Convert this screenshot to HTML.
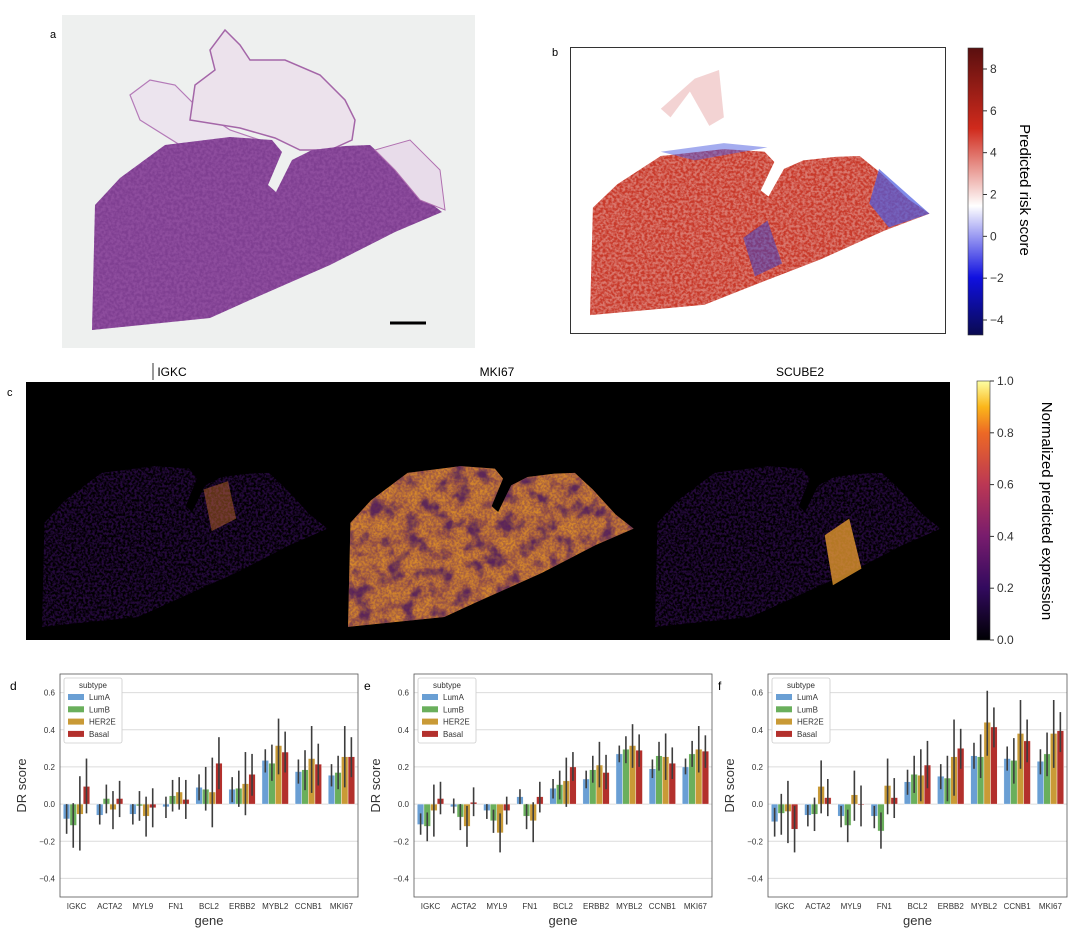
<!DOCTYPE html>
<html><head><meta charset="utf-8">
<style>
html,body{margin:0;padding:0;background:#fff;}
body{width:1080px;height:933px;overflow:hidden;font-family:"Liberation Sans",sans-serif;}
svg text{font-family:"Liberation Sans",sans-serif;}
</style></head>
<body>
<svg id="fig" width="1080" height="933" viewBox="0 0 1080 933" xmlns="http://www.w3.org/2000/svg">
<defs>
  <filter id="noise" x="0" y="0" width="100%" height="100%">
    <feTurbulence type="fractalNoise" baseFrequency="0.35" numOctaves="2" seed="3" result="n"/>
    <feColorMatrix in="n" type="saturate" values="0" result="g"/>
    <feComponentTransfer in="g" result="a"><feFuncA type="table" tableValues="0 0 0.9 1"/></feComponentTransfer>
    <feComposite in="SourceGraphic" in2="a" operator="in"/>
  </filter>
  <filter id="blotch" x="0" y="0" width="100%" height="100%">
    <feTurbulence type="fractalNoise" baseFrequency="0.05" numOctaves="3" seed="7" result="n"/>
    <feColorMatrix in="n" type="saturate" values="0" result="g"/>
    <feComponentTransfer in="g" result="a"><feFuncA type="table" tableValues="0 0 0.2 1 1"/></feComponentTransfer>
    <feComposite in="SourceGraphic" in2="a" operator="in"/>
  </filter>
  <path id="body" d="M92,330 L95,205 L120,178 L165,145 L230,137 L272,140 L282,152 L268,185 L276,192 L292,160 L312,150 L345,146 L370,145 L392,165 L420,195 L442,212 L395,232 L330,265 L250,300 L210,318 Z"/>
  <path id="upper" d="M190,120 L195,85 L215,70 L210,50 L225,30 L240,45 L250,60 L285,60 L320,75 L345,100 L355,120 L352,140 L330,150 L300,150 L275,138 L240,128 Z"/>
  <linearGradient id="rbcb" x1="0" y1="1" x2="0" y2="0">
    <stop offset="0" stop-color="#0a0a50"/><stop offset="0.2" stop-color="#1010e0"/>
    <stop offset="0.45" stop-color="#ffffff"/><stop offset="0.72" stop-color="#d02a1c"/>
    <stop offset="1" stop-color="#5a0f0f"/>
  </linearGradient>
  <linearGradient id="infcb" x1="0" y1="1" x2="0" y2="0">
    <stop offset="0" stop-color="#000004"/><stop offset="0.2" stop-color="#320a5e"/>
    <stop offset="0.4" stop-color="#781c6d"/><stop offset="0.6" stop-color="#bb3754"/>
    <stop offset="0.8" stop-color="#ed6925"/><stop offset="0.9" stop-color="#fbb61a"/>
    <stop offset="1" stop-color="#fcffa4"/>
  </linearGradient>
</defs>

<!-- Panel a -->
<g>
  <text x="50" y="38" font-size="11">a</text>
  <rect x="62" y="15" width="413" height="333" fill="#eef0ef"/>
  <path d="M130,95 L150,80 L175,85 L200,110 L230,130 L260,140 L240,150 L180,145 L140,120 Z" fill="#ece4ee" stroke="#b47ab8" stroke-width="1.2"/>
  <path d="M98,215 L105,195 L125,190 L135,205 L120,230 L100,240 Z" fill="#ece4ee" stroke="#b47ab8"/>
  <use href="#upper" fill="#ece2ec" stroke="#a466a8" stroke-width="1.5"/>
  <use href="#body" fill="#8e4d9e"/>
  <use href="#body" fill="#6a2c80" filter="url(#noise)" opacity="0.45"/>
  <path d="M375,150 L410,140 L440,170 L445,210 L420,200 L395,170 Z" fill="#e8dcea" stroke="#b070b0"/>
  <line x1="390" y1="323" x2="426" y2="323" stroke="#000" stroke-width="3"/>
</g>

<!-- Panel b -->
<g>
  <text x="552" y="56" font-size="11">b</text>
  <rect x="570.5" y="47.5" width="375" height="286" fill="#fff" stroke="#333"/>
  <g transform="translate(590,150) scale(0.97,0.86) translate(-92,-138)">
    <use href="#body" fill="#c8392a"/>
    <use href="#body" fill="#ffffff" filter="url(#noise)" opacity="0.35"/>
    <path d="M390,160 L442,212 L400,228 L380,200 Z" fill="#4a5ae0" opacity="0.7"/>
    <path d="M250,240 L275,220 L290,270 L262,285 Z" fill="#3040d0" opacity="0.5"/>
    <path d="M165,140 L230,130 L275,135 L200,150 Z" fill="#4a5ae0" opacity="0.5"/>
    <path d="M165,90 L200,55 L225,45 L230,100 L215,110 L195,70 L175,100 Z" fill="#e8a8a8" opacity="0.5"/>
  </g>
  <rect x="968" y="48" width="15" height="287" fill="url(#rbcb)" stroke="#333" stroke-width="0.6"/>
  <g id="rbticks" font-size="12" fill="#333"></g>
  <text transform="translate(1020,190) rotate(90)" font-size="15" text-anchor="middle">Predicted risk score</text>
</g>

<!-- Panel c -->
<g>
  <text x="7" y="396" font-size="11">c</text>
  <rect x="26" y="382" width="924" height="258" fill="#000"/>
  <line x1="153" y1="363" x2="153" y2="380" stroke="#000" stroke-width="0.8"/>
  <text x="172" y="376" font-size="12" text-anchor="middle">IGKC</text>
  <text x="497" y="376" font-size="12" text-anchor="middle">MKI67</text>
  <text x="800" y="376" font-size="12" text-anchor="middle">SCUBE2</text>
  <g transform="translate(42,467) scale(0.816,0.833) translate(-92,-138)">
    <use href="#body" fill="#3a0e5e" filter="url(#noise)" opacity="0.7"/>
    <path d="M290,165 L320,155 L330,200 L300,215 Z" fill="#d07030" opacity="0.45"/>
  </g>
  <g transform="translate(348,467) scale(0.816,0.833) translate(-92,-138)">
    <use href="#body" fill="#d88a2a"/>
    <use href="#body" fill="#3a0c60" filter="url(#blotch)" opacity="0.75"/>
    <use href="#body" fill="#4a1070" filter="url(#noise)" opacity="0.35"/>
  </g>
  <g transform="translate(655,467) scale(0.816,0.833) translate(-92,-138)">
    <use href="#body" fill="#3a0e5e" filter="url(#noise)" opacity="0.7"/>
    <path d="M300,220 L330,200 L345,260 L310,280 Z" fill="#f0a030" opacity="0.75"/>
  </g>
  <rect x="977" y="381" width="13" height="259" fill="url(#infcb)" stroke="#333" stroke-width="0.6"/>
  <g id="infticks" font-size="12" fill="#333"></g>
  <text transform="translate(1042,511) rotate(90)" font-size="15" text-anchor="middle">Normalized predicted expression</text>
</g>

<g id="charts"></g>
</svg>
<script>
const NS="http://www.w3.org/2000/svg";
const genes=["IGKC","ACTA2","MYL9","FN1","BCL2","ERBB2","MYBL2","CCNB1","MKI67"];
const subtypes=["LumA","LumB","HER2E","Basal"];
const yTicks=[0.6,0.4,0.2,0.0,-0.2,-0.4];
const yTickLabels=["0.6","0.4","0.2","0.0","\u22120.2","\u22120.4"];
const riskTicks=[8,6,4,2,0,-2,-4];
const riskTickLabels=["8","6","4","2","0","\u22122","\u22124"];
const exprTicks=[1.0,0.8,0.6,0.4,0.2,0.0];
const exprTickLabels=["1.0","0.8","0.6","0.4","0.2","0.0"];
// panel d: per gene [LumA, LumB, HER2E, Basal]
const dVal=[[-0.08,-0.115,-0.055,0.095],[-0.06,0.03,-0.03,0.03],[-0.055,-0.01,-0.065,-0.02],[-0.015,0.045,0.065,0.025],[0.09,0.08,0.065,0.22],[0.08,0.085,0.11,0.16],[0.235,0.22,0.315,0.28],[0.175,0.185,0.245,0.215],[0.155,0.17,0.255,0.255]];
const dLo=[[-0.16,-0.235,-0.25,-0.05],[-0.11,-0.05,-0.135,-0.07],[-0.11,-0.09,-0.175,-0.125],[-0.075,-0.04,-0.03,-0.08],[0.02,-0.035,-0.125,0.08],[0.01,-0.015,-0.06,0.045],[0.17,0.125,0.16,0.17],[0.11,0.075,0.06,0.1],[0.095,0.08,0.09,0.145]];
const dHi=[[0.0,0.005,0.15,0.245],[0.0,0.105,0.07,0.125],[0.0,0.07,0.04,0.085],[0.04,0.13,0.145,0.13],[0.16,0.2,0.25,0.36],[0.145,0.18,0.28,0.27],[0.295,0.32,0.46,0.39],[0.24,0.29,0.42,0.325],[0.215,0.26,0.42,0.36]];
// panel e
const eVal=[[-0.11,-0.12,-0.035,0.03],[-0.015,-0.07,-0.12,0.01],[-0.035,-0.09,-0.155,-0.035],[0.04,-0.065,-0.09,0.04],[0.085,0.105,0.125,0.2],[0.135,0.185,0.21,0.17],[0.27,0.295,0.315,0.29],[0.19,0.26,0.255,0.22],[0.2,0.27,0.295,0.285]];
const eLo=[[-0.165,-0.2,-0.175,-0.055],[-0.05,-0.14,-0.23,-0.065],[-0.08,-0.155,-0.26,-0.11],[0.0,-0.135,-0.205,-0.045],[0.03,0.025,-0.015,0.125],[0.085,0.115,0.09,0.08],[0.225,0.22,0.195,0.2],[0.14,0.18,0.13,0.135],[0.16,0.2,0.17,0.195]];
const eHi=[[-0.05,-0.045,0.105,0.12],[0.03,0.0,-0.01,0.09],[0.0,-0.03,-0.05,0.04],[0.08,0.0,0.01,0.12],[0.135,0.18,0.25,0.28],[0.18,0.26,0.335,0.265],[0.315,0.365,0.43,0.375],[0.24,0.335,0.38,0.305],[0.245,0.34,0.42,0.37]];
// panel f
const fVal=[[-0.095,-0.05,-0.04,-0.135],[-0.06,-0.055,0.095,0.035],[-0.065,-0.115,0.05,-0.005],[-0.065,-0.145,0.1,0.035],[0.12,0.16,0.155,0.21],[0.15,0.14,0.255,0.3],[0.26,0.255,0.44,0.415],[0.245,0.235,0.38,0.34],[0.23,0.27,0.38,0.395]];
const fLo=[[-0.175,-0.165,-0.21,-0.26],[-0.12,-0.145,-0.05,-0.065],[-0.125,-0.205,-0.09,-0.12],[-0.13,-0.24,-0.055,-0.075],[0.05,0.06,0.015,0.085],[0.08,0.015,0.045,0.19],[0.19,0.14,0.26,0.305],[0.18,0.11,0.19,0.225],[0.16,0.15,0.195,0.28]];
const fHi=[[-0.02,0.055,0.125,-0.01],[-0.005,0.035,0.235,0.135],[-0.01,-0.03,0.18,0.1],[-0.01,-0.045,0.245,0.14],[0.185,0.26,0.295,0.34],[0.215,0.26,0.455,0.405],[0.33,0.375,0.61,0.52],[0.31,0.355,0.56,0.455],[0.295,0.385,0.56,0.495]];

const colors=["#6a9fd4","#6aaf5c","#c99a36","#b3302c"];
function mk(tag,attrs,parent){const e=document.createElementNS(NS,tag);for(const k in attrs)e.setAttribute(k,attrs[k]);parent.appendChild(e);return e;}

(function(){
  const g=document.getElementById('rbticks');
  const ry=v=>69+(8-v)*(320-69)/12;
  riskTicks.forEach((v,i)=>{
    const y=ry(v);
    const l=mk('line',{x1:983,x2:987,y1:y,y2:y,stroke:'#333'},g);
    
    
    const t=mk('text',{x:990,y:y+4},g);t.textContent=riskTickLabels[i];
    
    
  });
  const g2=document.getElementById('infticks');
  const ey=v=>640-v*259;
  exprTicks.forEach((v,i)=>{
    const y=ey(v);
    const l=mk('line',{x1:990,x2:994,y1:y,y2:y,stroke:'#333'},g2);
    
    
    const t=mk('text',{x:997,y:y+4},g2);t.textContent=exprTickLabels[i];
    
    
  });
})();

function chart(label,left,right,vals,lo,hi){
  const root=document.getElementById('charts');
  const g=mk('g',{},root);
  
  
  const top=674,bottom=897,ymax=0.70,ymin=-0.50;
  const y=v=>top+(ymax-v)/(ymax-ymin)*(bottom-top);
  const cw=(right-left)/genes.length;
  const x=i=>left+cw*(i+0.5);
  const pl=mk('text',{x:left-50,y:690,'font-size':12},g);pl.textContent=label;
  
  
  yTicks.forEach((v,i)=>{
    const gl=mk('line',{x1:left,x2:right,y1:y(v),y2:y(v),stroke:'#dcdcdc','stroke-width':1},g);
    
    
    const t=mk('text',{x:left-5,y:y(v)+3,'font-size':8,'text-anchor':'end',fill:'#333'},g);
    t.textContent=yTickLabels[i];
    
    
  });
  const bw=cw*0.8/4;
  genes.forEach((gn,i)=>{
    subtypes.forEach((s,j)=>{
      const v=vals[i][j];
      const bx=x(i)-cw*0.4+j*bw;
      const r=mk('rect',{x:bx,y:Math.min(y(v),y(0)),width:bw,height:Math.abs(y(v)-y(0)),fill:colors[j],stroke:'#fff','stroke-width':0.4},g);
      
      
      const e=mk('line',{x1:bx+bw/2,x2:bx+bw/2,y1:y(lo[i][j]),y2:y(hi[i][j]),stroke:'#3d3d3d','stroke-width':1.6},g);
      
      
    });
    const t=mk('text',{x:x(i),y:bottom+12,'font-size':8,'text-anchor':'middle',fill:'#333'},g);
    t.textContent=gn;
    
    
  });
  const fr=mk('rect',{x:left,y:top,width:right-left,height:bottom-top,fill:'none',stroke:'#555','stroke-width':0.8},g);
  
  
  const xt=mk('text',{x:(left+right)/2,y:bottom+28,'font-size':13,'text-anchor':'middle',fill:'#333'},g);xt.textContent='gene';
  
  
  const yt=mk('text',{transform:'translate('+(left-34)+','+((top+bottom)/2)+') rotate(-90)','font-size':13,'text-anchor':'middle',fill:'#333'},g);yt.textContent='DR score';
  
  
  const lg=mk('g',{},g);
  
  
  mk('rect',{x:left+4,y:top+4,width:58,height:65,fill:'#fff',stroke:'#ccc','stroke-width':0.8,rx:2},lg);
  const tt=mk('text',{x:left+33,y:top+14,'font-size':8,'text-anchor':'middle',fill:'#333'},lg);tt.textContent='subtype';
  subtypes.forEach((s,j)=>{
    const yy=top+24+j*12.3;
    mk('rect',{x:left+8,y:yy-4,width:16,height:6,fill:colors[j]},lg);
    const t=mk('text',{x:left+29,y:yy+2,'font-size':8,fill:'#333'},lg);t.textContent=s;
    
    
  });
}
chart('d',60,358,dVal,dLo,dHi);
chart('e',414,712,eVal,eLo,eHi);
chart('f',768,1067,fVal,fLo,fHi);
</script>
</body></html>
